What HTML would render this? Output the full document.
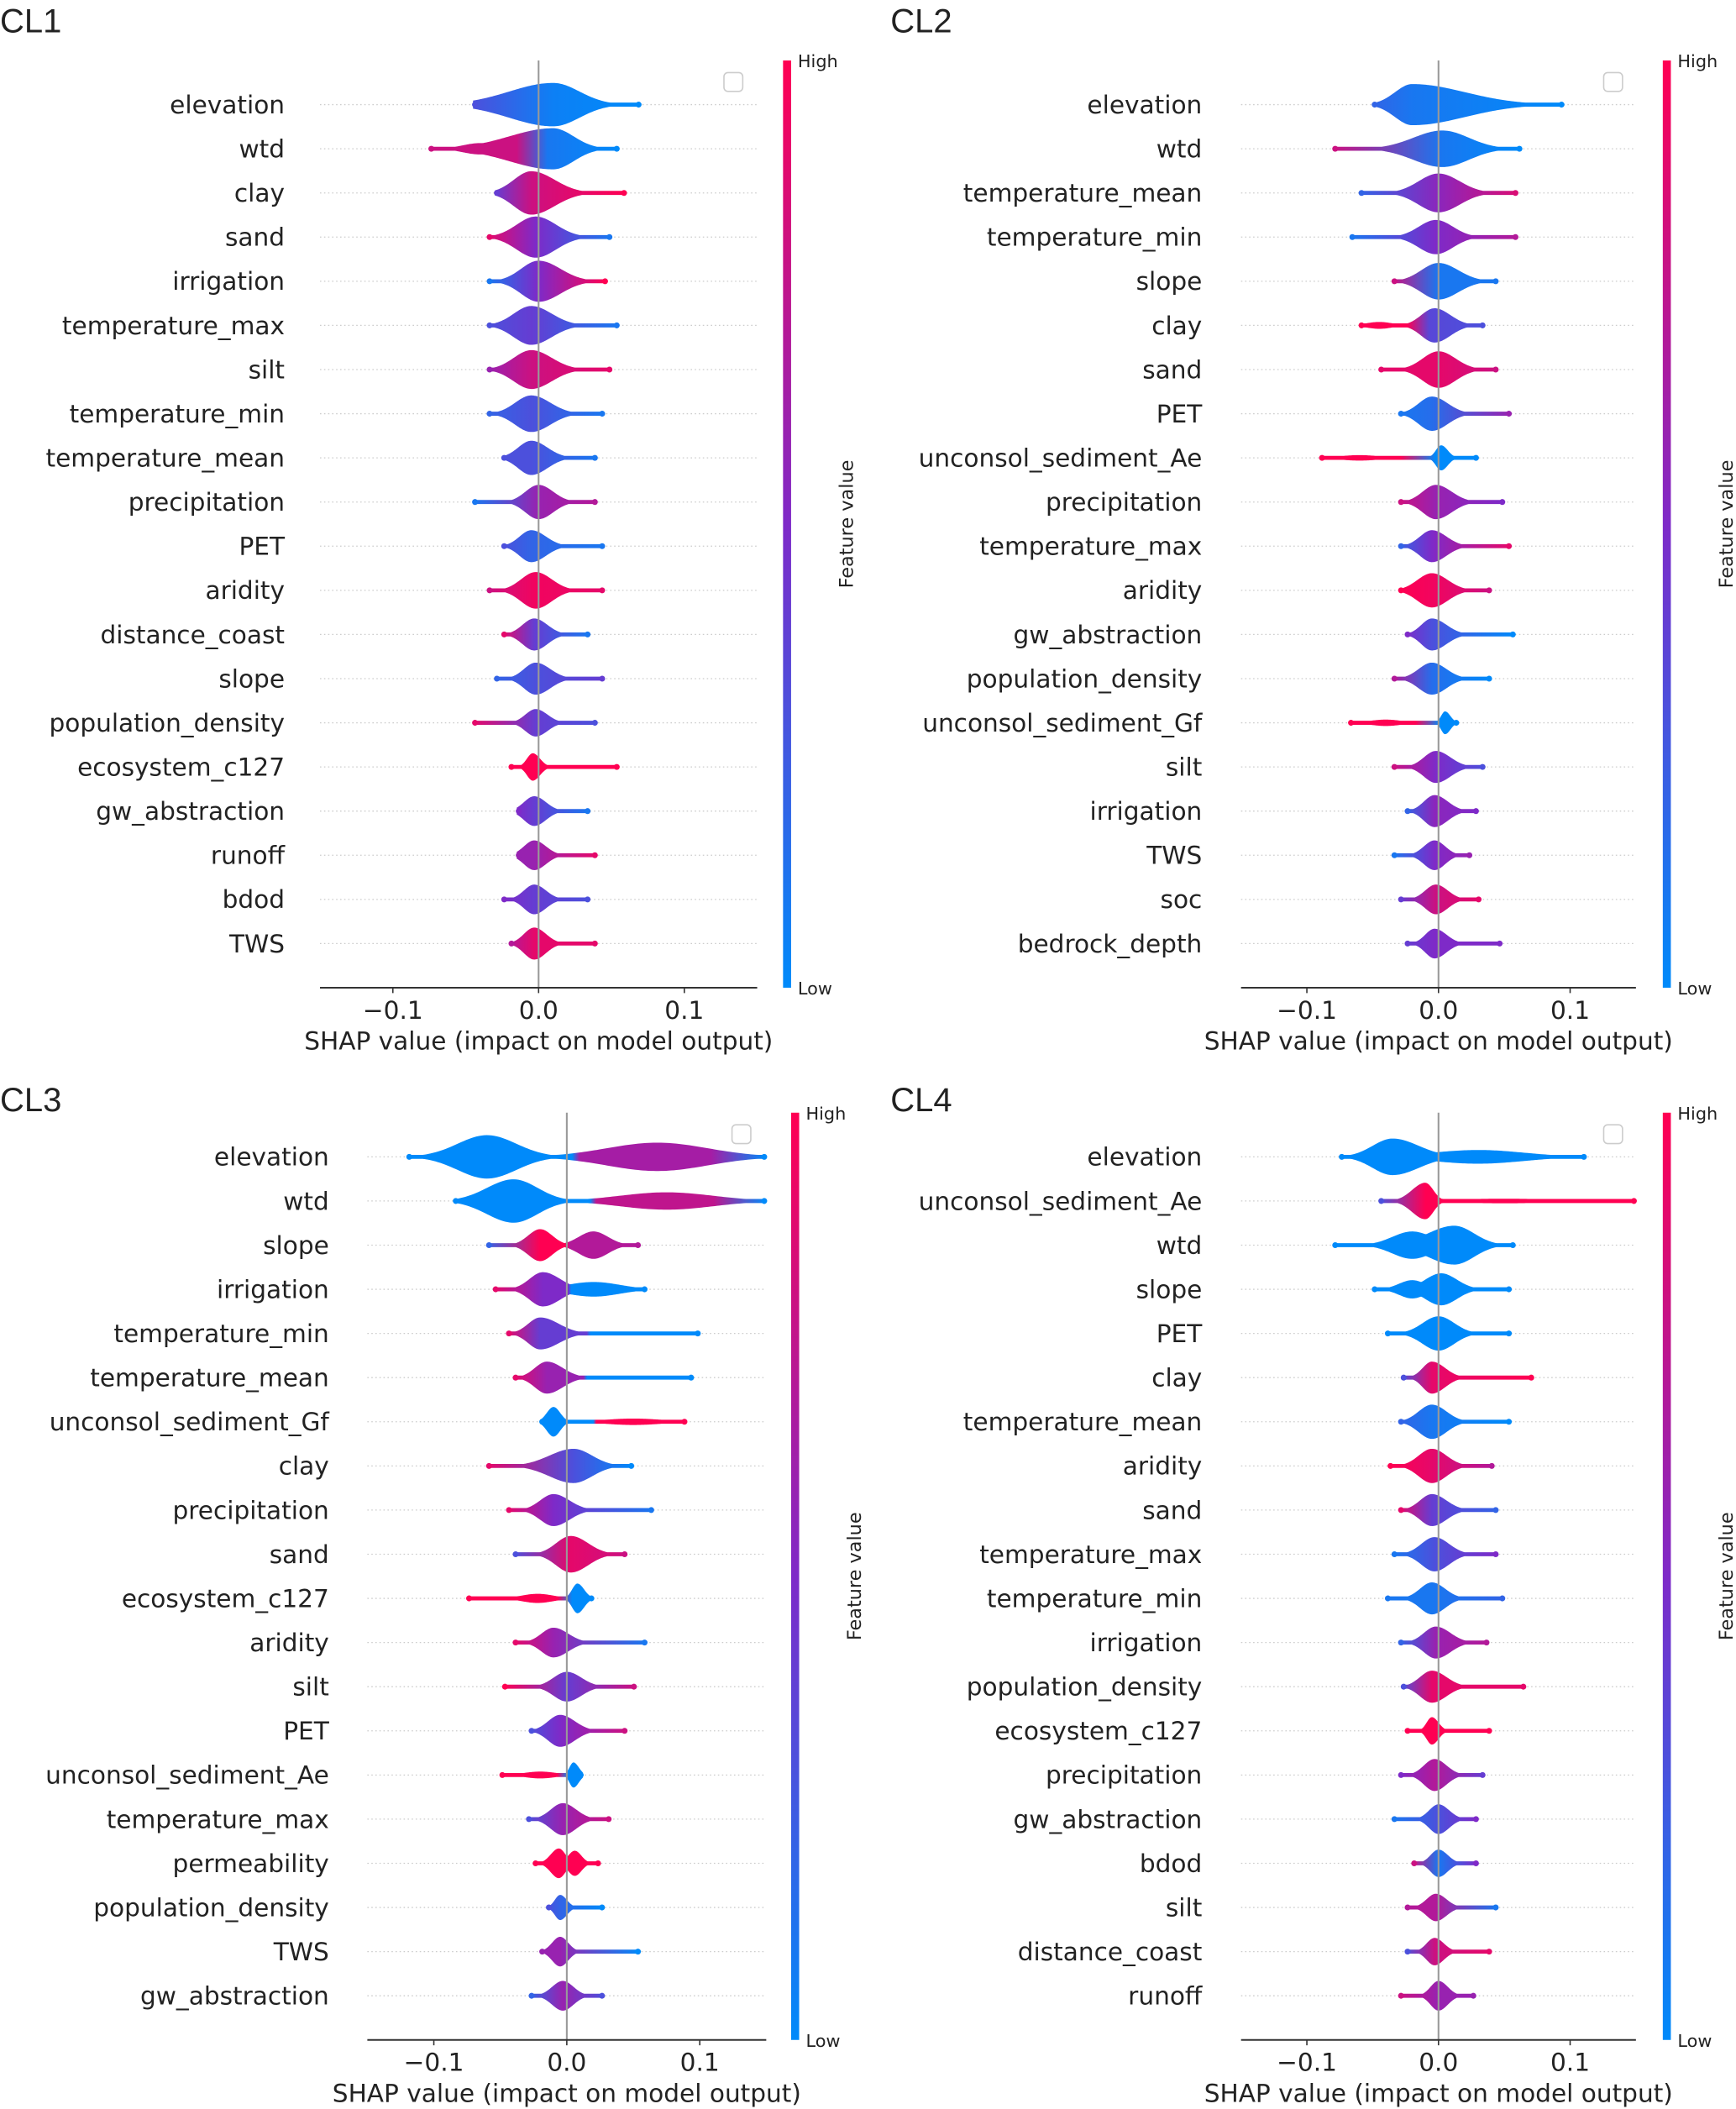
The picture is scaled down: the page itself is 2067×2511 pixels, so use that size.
<!DOCTYPE html>
<html><head><meta charset="utf-8">
<style>
html,body{margin:0;padding:0;background:#fff;}
svg{display:block;}
text{font-family:"DejaVu Sans","Liberation Sans",sans-serif;fill:#222;}
</style></head>
<body>
<svg id="fig" xmlns="http://www.w3.org/2000/svg" width="2067" height="2511" viewBox="0 0 1292.5 1569.4" preserveAspectRatio="none">
<defs id="defs"></defs>
</svg>
<script>
// ---------- CL1 data ----------
const cl1Features=["elevation","wtd","clay","sand","irrigation","temperature_max","silt","temperature_min","temperature_mean","precipitation","PET","aridity","distance_coast","slope","population_density","ecosystem_c127","gw_abstraction","runoff","bdod","TWS"];
const cl1Ranges=[[-0.045,0.07],[-0.075,0.055],[-0.03,0.06],[-0.035,0.05],[-0.035,0.047],[-0.035,0.055],[-0.035,0.05],[-0.035,0.045],[-0.025,0.04],[-0.045,0.04],[-0.025,0.045],[-0.035,0.045],[-0.025,0.035],[-0.03,0.045],[-0.045,0.04],[-0.02,0.055],[-0.015,0.035],[-0.015,0.04],[-0.025,0.035],[-0.02,0.04]];
const cl1Peaks=[0.01,0.01,-0.005,-0.002,0,-0.005,-0.005,-0.005,-0.005,0,-0.005,-0.002,-0.003,-0.002,-0.002,-0.004,-0.003,-0.003,-0.003,-0.003];
const cl1Spreads=[[0.03,0.018],[0.03,0.014],[0.012,0.016],[0.013,0.014],[0.012,0.015],[0.012,0.014],[0.012,0.014],[0.011,0.013],[0.009,0.011],[0.009,0.01],[0.008,0.01],[0.01,0.011],[0.008,0.009],[0.008,0.01],[0.007,0.008],[0.004,0.005],[0.007,0.008],[0.007,0.008],[0.007,0.008],[0.007,0.008]];
const cl1Amps=[0.95,0.9,0.95,0.9,0.9,0.85,0.85,0.8,0.75,0.75,0.7,0.8,0.7,0.7,0.6,0.6,0.65,0.65,0.65,0.7];
const cl1Colors=[[0.3,0.05,0],[1,0.1,0],[0.4,0.8,1],[0.9,0.5,0.1],[0.1,0.5,1],[0.3,0.4,0.1],[0.6,0.8,0.9],[0.2,0.3,0.1],[0.3,0.3,0.1],[0.1,0.6,0.7],[0.3,0.2,0.1],[0.8,0.95,0.9],[0.9,0.4,0.1],[0.2,0.3,0.4],[0.9,0.4,0.3],[1,1,1],[0.5,0.4,0.1],[0.6,0.6,0.9],[0.5,0.4,0.3],[0.7,0.9,0.9]];
const cl1Modes2=[null,[-0.04,0.012,0.25,0.8],null,null,null,null,null,null,null,null,null,null,null,null,null,null,null,null,null,null];

// ---------- CL2 data ----------
const cl2Features=["elevation","wtd","temperature_mean","temperature_min","slope","clay","sand","PET","unconsol_sediment_Ae","precipitation","temperature_max","aridity","gw_abstraction","population_density","unconsol_sediment_Gf","silt","irrigation","TWS","soc","bedrock_depth"];
const cl2Ranges=[[-0.05,0.095],[-0.08,0.063],[-0.06,0.06],[-0.067,0.06],[-0.035,0.045],[-0.06,0.035],[-0.045,0.045],[-0.03,0.055],[-0.09,0.03],[-0.03,0.05],[-0.03,0.055],[-0.03,0.04],[-0.025,0.058],[-0.035,0.04],[-0.068,0.015],[-0.035,0.035],[-0.025,0.03],[-0.035,0.025],[-0.03,0.032],[-0.025,0.048]];
const cl2Peaks=[-0.02,0.003,0,-0.002,0,-0.003,0,-0.005,0.002,-0.002,-0.005,-0.005,-0.005,-0.005,0.005,-0.002,-0.003,-0.003,-0.002,-0.003];
const cl2Spreads=[[0.013,0.04],[0.022,0.02],[0.015,0.016],[0.013,0.013],[0.013,0.015],[0.01,0.012],[0.012,0.013],[0.01,0.012],[0.004,0.005],[0.01,0.012],[0.009,0.011],[0.011,0.012],[0.008,0.011],[0.01,0.011],[0.003,0.004],[0.009,0.011],[0.008,0.01],[0.008,0.008],[0.008,0.009],[0.007,0.009]];
const cl2Amps=[0.9,0.8,0.85,0.75,0.8,0.75,0.8,0.75,0.55,0.75,0.7,0.75,0.7,0.7,0.5,0.7,0.7,0.65,0.65,0.65];
const cl2Colors=[[0.2,0.1,0],[0.8,0.1,0],[0.2,0.55,0.85],[0.1,0.5,0.7],[0.8,0.1,0.1],[1,0.35,0.3],[0.9,0.9,0.8],[0.1,0.15,0.6],[1,0,0],[0.8,0.6,0.5],[0.2,0.5,0.9],[1,0.95,0.8],[0.5,0.3,0],[0.7,0.15,0],[1,0,0],[0.8,0.5,0.3],[0.2,0.55,0.5],[0.1,0.5,0.6],[0.4,0.8,0.9],[0.4,0.5,0.5]];
const cl2Modes2=[null,null,null,null,null,[-0.045,0.01,0.15,1],null,null,[-0.06,0.015,0.12,1],null,null,null,null,null,[-0.04,0.012,0.14,1],null,null,null,null,null];

// ---------- CL3 data ----------
const cl3Features=["elevation","wtd","slope","irrigation","temperature_min","temperature_mean","unconsol_sediment_Gf","clay","precipitation","sand","ecosystem_c127","aridity","silt","PET","unconsol_sediment_Ae","temperature_max","permeability","population_density","TWS","gw_abstraction"];
const cl3Ranges=[[-0.12,0.15],[-0.085,0.15],[-0.06,0.055],[-0.055,0.06],[-0.045,0.1],[-0.04,0.095],[-0.02,0.09],[-0.06,0.05],[-0.045,0.065],[-0.04,0.045],[-0.075,0.02],[-0.04,0.06],[-0.048,0.052],[-0.028,0.045],[-0.05,0.012],[-0.03,0.033],[-0.025,0.025],[-0.015,0.028],[-0.02,0.055],[-0.028,0.028]];
const cl3Peaks=[-0.06,-0.04,-0.02,-0.018,-0.02,-0.015,-0.01,0.005,-0.01,0.003,0.008,-0.01,0,-0.005,0.005,-0.003,-0.006,-0.005,-0.005,-0.003];
const cl3Spreads=[[0.022,0.022],[0.02,0.018],[0.009,0.009],[0.01,0.013],[0.009,0.014],[0.009,0.012],[0.005,0.005],[0.018,0.014],[0.01,0.012],[0.011,0.013],[0.004,0.005],[0.009,0.011],[0.01,0.011],[0.009,0.011],[0.003,0.004],[0.009,0.01],[0.006,0.005],[0.004,0.005],[0.006,0.006],[0.008,0.008]];
const cl3Amps=[0.95,0.95,0.7,0.75,0.7,0.7,0.65,0.75,0.7,0.8,0.65,0.65,0.65,0.7,0.55,0.7,0.65,0.55,0.65,0.65];
const cl3Colors=[[0,0,0],[0,0,0],[0.2,1,0.7],[0.9,0.5,0],[0.9,0.4,0],[0.9,0.6,0],[0,0,1],[0.9,0.3,0],[0.9,0.5,0.1],[0.3,0.9,0.8],[1,0,0],[0.9,0.6,0.1],[1,0.4,0.8],[0.3,0.5,0.8],[1,0,0],[0.3,0.6,0.8],[1,1,1],[0.3,0.2,0],[0.6,0.6,0],[0.2,0.6,0.3]];
const cl3Modes2=[[0.068,0.038,0.62,0.65],[0.075,0.035,0.38,0.75],[0.02,0.011,0.6,0.7],[0.02,0.02,0.32,0],[0.05,0.04,0.05,0],[0.04,0.03,0.08,0],[0.05,0.022,0.14,1],null,null,null,[-0.022,0.012,0.2,1],null,null,null,[-0.02,0.012,0.15,1],null,[0.006,0.005,0.55,1],null,null,null];

// ---------- CL4 data ----------
const cl4Features=["elevation","unconsol_sediment_Ae","wtd","slope","PET","clay","temperature_mean","aridity","sand","temperature_max","temperature_min","irrigation","population_density","ecosystem_c127","precipitation","gw_abstraction","bdod","silt","distance_coast","runoff"];
const cl4Ranges=[[-0.075,0.112],[-0.045,0.15],[-0.08,0.058],[-0.05,0.055],[-0.04,0.055],[-0.028,0.072],[-0.03,0.055],[-0.038,0.042],[-0.03,0.045],[-0.035,0.045],[-0.04,0.05],[-0.03,0.038],[-0.028,0.066],[-0.025,0.04],[-0.03,0.035],[-0.035,0.03],[-0.02,0.03],[-0.025,0.045],[-0.025,0.04],[-0.03,0.028]];
const cl4Peaks=[-0.035,-0.01,0.012,0.002,0,-0.005,-0.005,-0.005,-0.005,-0.003,-0.005,-0.002,-0.005,-0.005,-0.003,0,0,-0.002,-0.003,0];
const cl4Spreads=[[0.015,0.02],[0.01,0.006],[0.02,0.015],[0.012,0.012],[0.012,0.012],[0.007,0.01],[0.01,0.011],[0.01,0.011],[0.009,0.011],[0.01,0.011],[0.009,0.01],[0.009,0.011],[0.009,0.011],[0.004,0.005],[0.008,0.009],[0.007,0.008],[0.006,0.007],[0.007,0.008],[0.006,0.007],[0.006,0.007]];
const cl4Amps=[0.8,0.8,0.85,0.7,0.75,0.7,0.75,0.75,0.7,0.75,0.7,0.7,0.7,0.6,0.7,0.65,0.6,0.6,0.6,0.65];
const cl4Colors=[[0,0,0],[0.3,1,1],[0.3,0,0],[0.7,0,0],[0,0,0],[0.3,0.9,1],[0.2,0.1,0],[1,0.9,0.7],[0.9,0.4,0.2],[0.1,0.3,0.5],[0.1,0.1,0.2],[0.2,0.6,0.7],[0.3,0.9,0.9],[1,1,1],[0.5,0.7,0.4],[0.1,0.3,0.5],[0.8,0.1,0.5],[0.7,0.7,0.1],[0.3,0.8,0.9],[0.8,0.6,0.6]];
const cl4Modes2=[[0.03,0.035,0.3,0],[0.05,0.04,0.1,1],[-0.02,0.015,0.6,0],[-0.02,0.01,0.4,0],null,null,null,null,null,null,null,null,null,null,null,null,null,null,null,null];

const panels=[
 {title:"CL1",tx:0,ty:24,zero:401,pp:1085,labR:212,top:45,axisY:735,cb:583,f:cl1Features,r:cl1Ranges,p:cl1Peaks,s:cl1Spreads,a:cl1Amps,c:cl1Colors,m:cl1Modes2},
 {title:"CL2",tx:663,ty:24,zero:1071,pp:980,labR:895,top:45,axisY:735,cb:1238,f:cl2Features,r:cl2Ranges,p:cl2Peaks,s:cl2Spreads,a:cl2Amps,c:cl2Colors,m:cl2Modes2},
 {title:"CL3",tx:0,ty:827,zero:422,pp:990,labR:245,top:828,axisY:1518,cb:589,f:cl3Features,r:cl3Ranges,p:cl3Peaks,s:cl3Spreads,a:cl3Amps,c:cl3Colors,m:cl3Modes2},
 {title:"CL4",tx:663,ty:827,zero:1071,pp:980,labR:895,top:828,axisY:1518,cb:1238,f:cl4Features,r:cl4Ranges,p:cl4Peaks,s:cl4Spreads,a:cl4Amps,c:cl4Colors,m:cl4Modes2}
];
const xTicks=[-0.1,0,0.1];
const xTickLabels=["\u22120.1","0.0","0.1"];

const NS="http://www.w3.org/2000/svg";
const svg=document.getElementById('fig');
const defs=document.getElementById('defs');
function mk(tag,attrs,parent){const e=document.createElementNS(NS,tag);for(const k in attrs)e.setAttribute(k,attrs[k]);(parent||svg).appendChild(e);return e;}
function col(t){const b=[0,138,250],r=[255,0,82];const mid=[126,42,200];
 let c;if(t<0.5){const u=t/0.5;c=b.map((v,i)=>v+(mid[i]-v)*u);}else{const u=(t-0.5)/0.5;c=mid.map((v,i)=>v+(r[i]-v)*u);}
 return `rgb(${c.map(Math.round).join(',')})`;}

const cg=mk('linearGradient',{id:'cbg',x1:0,y1:1,x2:0,y2:0},defs);
for(let i=0;i<=10;i++)mk('stop',{offset:i/10,'stop-color':col(i/10)},cg);

panels.forEach((P,pi)=>{
 const g=mk('g',{});
 
 
 const X=v=>P.zero+v*P.pp;
 const sp=(P.axisY-P.top)/21;
 const t=mk('text',{x:P.tx,y:P.ty,'font-size':25,style:'font-family:"Liberation Sans",sans-serif'},g);t.textContent=P.title;
 
 const L=X(-0.15),R=X(0.15);
 P.f.forEach((name,i)=>{
  const y=P.top+sp*(i+1);
  const gl=mk('line',{x1:L,x2:R,y1:y,y2:y,stroke:'#ccc','stroke-width':0.8,'stroke-dasharray':'1 2'},g);
  
  const lb=mk('text',{x:P.labR,y:y+6.5,'text-anchor':'end','font-size':18.5},g);lb.textContent=name;
  
  const [mn,mx]=P.r[i],pk=P.p[i],[sL,sR]=P.s[i],amp=P.a[i],cc=P.c[i],m2=P.m[i];
  const H=17;
  const gid='vg'+pi+'_'+i;
  const gr=mk('linearGradient',{id:gid,gradientUnits:'userSpaceOnUse',x1:X(mn),x2:X(mx),y1:0,y2:0},defs);
  const span=mx-mn;
  mk('stop',{offset:0,'stop-color':col(cc[0])},gr);
  mk('stop',{offset:Math.max(0,Math.min(1,(pk-mn)/span)),'stop-color':col(cc[1])},gr);
  if(m2){const o=(m2[0]-mn)/span;const mid=((pk+m2[0])/2-mn)/span;
   if(m2[0]>pk){mk('stop',{offset:Math.min(1,Math.max(0,mid)),'stop-color':col(cc[1])},gr);mk('stop',{offset:Math.min(1,Math.max(0,mid+0.02)),'stop-color':col(m2[3])},gr);mk('stop',{offset:Math.min(1,o+0.15),'stop-color':col(m2[3])},gr);}
  }
  mk('stop',{offset:1,'stop-color':col(cc[2])},gr);
  if(m2&&m2[0]<pk){gr.innerHTML='';
   mk('stop',{offset:0,'stop-color':col(m2[3])},gr);
   mk('stop',{offset:Math.max(0,((pk+m2[0])/2-mn)/span),'stop-color':col(m2[3])},gr);
   mk('stop',{offset:Math.max(0,(pk-0.004-mn)/span),'stop-color':col(cc[1])},gr);
   mk('stop',{offset:1,'stop-color':col(cc[2])},gr);}
  const top=[],bot=[];
  const n=140;
  for(let k=0;k<=n;k++){const v=mn+span*k/n;const s=v<pk?sL:sR;
   let h=amp*H*Math.exp(-0.5*((v-pk)/s)**2);
   if(m2)h=Math.max(h,m2[2]*H*Math.exp(-0.5*((v-m2[0])/m2[1])**2));
   h=Math.max(h,1.5);
   top.push(X(v).toFixed(2)+','+(y-h).toFixed(2));bot.unshift(X(v).toFixed(2)+','+(y+h).toFixed(2));}
  const vp=mk('polygon',{points:top.concat(bot).join(' '),fill:`url(#${gid})`},g);
  
  const d1=mk('circle',{cx:X(mn)+1.5,cy:y,r:2.2,fill:col(m2&&m2[0]<pk?m2[3]:cc[0])},g);
  
  const d2=mk('circle',{cx:X(mx)-1.5,cy:y,r:2.2,fill:col(cc[2])},g);
  
 });
 const zl=mk('line',{x1:X(0),x2:X(0),y1:P.top,y2:P.axisY,stroke:'#999','stroke-width':1.3},g);
 
 const ax=mk('line',{x1:L,x2:R,y1:P.axisY,y2:P.axisY,stroke:'#333','stroke-width':1.2},g);
 
 xTicks.forEach((v,k)=>{
  const tk=mk('line',{x1:X(v),x2:X(v),y1:P.axisY,y2:P.axisY+4,stroke:'#333','stroke-width':1},g);
  
  const tl=mk('text',{x:X(v),y:P.axisY+23,'text-anchor':'middle','font-size':18.5},g);tl.textContent=xTickLabels[k];
  
 });
 const at=mk('text',{x:X(0),y:P.axisY+46,'text-anchor':'middle','font-size':18.5},g);at.textContent='SHAP value (impact on model output)';
 
 const cb=mk('rect',{x:P.cb,y:P.top,width:6,height:P.axisY-P.top,fill:'url(#cbg)'},g);
 
 const hi=mk('text',{x:P.cb+11,y:P.top+5,'font-size':13},g);hi.textContent='High';
 
 const lo=mk('text',{x:P.cb+11,y:P.axisY+5,'font-size':13},g);lo.textContent='Low';
 
 const cy=(P.top+P.axisY)/2;
 const fv=mk('text',{x:P.cb+52,y:cy,'text-anchor':'middle','font-size':14,transform:`rotate(-90 ${P.cb+52} ${cy})`},g);fv.textContent='Feature value';
 
 const lg=mk('rect',{x:P.cb-44,y:P.top+9,width:14,height:14,rx:3,fill:'#fff',stroke:'#ccc','stroke-width':1},g);
 
});
</script>
</body></html>
